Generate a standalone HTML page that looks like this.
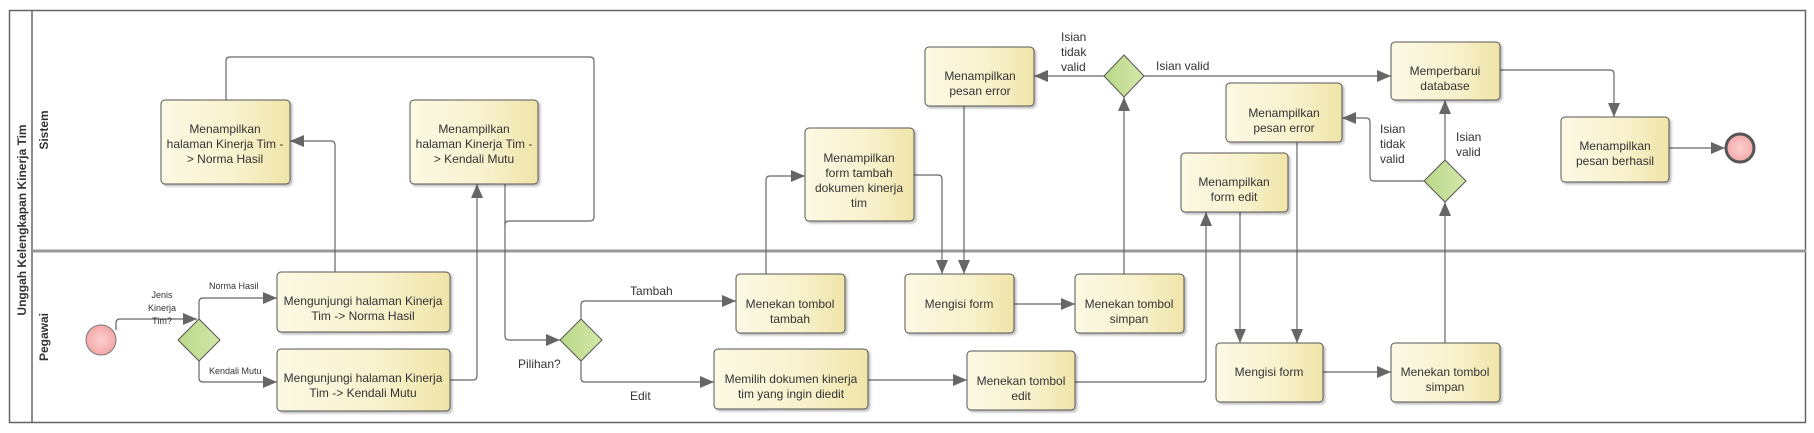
<!DOCTYPE html>
<html><head><meta charset="utf-8"><style>
html,body{margin:0;padding:0;background:#fff;}
svg{display:block;font-family:"Liberation Sans","DejaVu Sans",sans-serif;}
.b{fill:url(#g);stroke:#555;stroke-width:1;}
.t{font-size:12px;fill:#333;text-anchor:middle;}
.l{font-size:12px;fill:#333;}
.s{font-size:9px;fill:#333;}
.c{fill:none;stroke:#666;stroke-width:1.2;}
.d{fill:url(#gd);stroke:#555;}
</style></head><body>
<svg width="1814" height="433" viewBox="0 0 1814 433" xmlns="http://www.w3.org/2000/svg">
<defs>
<linearGradient id="g" x1="0" x2="1" y1="0" y2="0"><stop offset="0" stop-color="#fcf9e4"/><stop offset="0.6" stop-color="#f8f1cc"/><stop offset="1" stop-color="#f0e4a8"/></linearGradient>
<linearGradient id="gd" x1="0" x2="1"><stop offset="0" stop-color="#b9d88a"/><stop offset="1" stop-color="#d3e7a8"/></linearGradient>
<radialGradient id="gr"><stop offset="0" stop-color="#fbd0d0"/><stop offset="1" stop-color="#f4a8a8"/></radialGradient>
<marker id="a" markerWidth="14" markerHeight="12" refX="14" refY="6" orient="auto" markerUnits="userSpaceOnUse"><path d="M0,0 L14,6 L0,12 z" fill="#666"/></marker>
<filter id="sh" x="-5%" y="-5%" width="115%" height="120%"><feDropShadow dx="2" dy="2" stdDeviation="1" flood-color="#000" flood-opacity="0.25"/></filter>
</defs>
<!-- pool -->
<rect x="9.5" y="10.5" width="1796" height="412" fill="none" stroke="#666" stroke-width="1.5"/>
<line x1="32" y1="10" x2="32" y2="423" stroke="#666" stroke-width="1.5"/>
<line x1="32" y1="251" x2="1806" y2="251" stroke="#999" stroke-width="3"/>
<text transform="translate(26,220) rotate(-90)" style="font-size:12px;font-weight:bold;fill:#333" text-anchor="middle" x="0" y="0">Unggah Kelengkapan Kinerja Tim</text>
<text transform="translate(48,130) rotate(-90)" style="font-size:12px;font-weight:bold;fill:#333" text-anchor="middle">Sistem</text>
<text transform="translate(48,337) rotate(-90)" style="font-size:12px;font-weight:bold;fill:#333" text-anchor="middle">Pegawai</text>

<!-- connectors -->
<g class="c">
<path d="M116,330 V323 Q116,319 120,319 H197" marker-end="url(#a)"/>
<path d="M199,319 V302 Q199,298 203,298 H277" marker-end="url(#a)"/>
<path d="M199,361 V378 Q199,382 203,382 H277" marker-end="url(#a)"/>
<path d="M335,272 V145 Q335,141 331,141 H290" marker-end="url(#a)"/>
<path d="M450,380 H473 Q477,380 477,376 V184" marker-end="url(#a)"/>
<path d="M226,100 V61 Q226,57 230,57 H590 Q594,57 594,61 V217 Q594,221 590,221 H509 Q505,221 505,225"/>
<path d="M505,184 V336 Q505,340 509,340 H560" marker-end="url(#a)"/>
<path d="M581,319 V305 Q581,301 585,301 H736" marker-end="url(#a)"/>
<path d="M581,361 V378 Q581,382 585,382 H714" marker-end="url(#a)"/>
<path d="M766,274 V180 Q766,176 770,176 H805" marker-end="url(#a)"/>
<path d="M914,175 H938 Q942,175 942,179 V274" marker-end="url(#a)"/>
<path d="M964,106 V274" marker-end="url(#a)"/>
<path d="M1014,304 H1075" marker-end="url(#a)"/>
<path d="M1124,274 V97" marker-end="url(#a)"/>
<path d="M1104,76 H1034" marker-end="url(#a)"/>
<path d="M1144,76 H1391" marker-end="url(#a)"/>
<path d="M868,380 H967" marker-end="url(#a)"/>
<path d="M1075,382 H1202 Q1206,382 1206,378 V212" marker-end="url(#a)"/>
<path d="M1240,212 V343" marker-end="url(#a)"/>
<path d="M1297,142 V343" marker-end="url(#a)"/>
<path d="M1323,372 H1391" marker-end="url(#a)"/>
<path d="M1445,343 V202" marker-end="url(#a)"/>
<path d="M1445,160 V100" marker-end="url(#a)"/>
<path d="M1424,181 H1374 Q1370,181 1370,177 V122 Q1370,118 1366,118 H1342" marker-end="url(#a)"/>
<path d="M1500,70 H1610 Q1614,70 1614,74 V117" marker-end="url(#a)"/>
<path d="M1669,148 H1725" marker-end="url(#a)"/>
</g>

<!-- events/gateways -->
<circle cx="101" cy="340" r="15" fill="url(#gr)" stroke="#777"/>
<circle cx="1740" cy="148" r="14" fill="url(#gr)" stroke="#555" stroke-width="3"/>
<path class="d" d="M199,319 L220,340 L199,361 L178,340 z"/>
<path class="d" d="M581,319 L602,340 L581,361 L560,340 z"/>
<path class="d" d="M1124,55 L1144,76 L1124,97 L1104,76 z"/>
<path class="d" d="M1445,160 L1466,181 L1445,202 L1424,181 z"/>

<!-- boxes -->
<g filter="url(#sh)">
<rect class="b" x="161" y="100" width="129" height="84" rx="4"/>
<rect class="b" x="410" y="100" width="128" height="84" rx="4"/>
<rect class="b" x="277" y="272" width="173" height="60" rx="4"/>
<rect class="b" x="277" y="349" width="173" height="62" rx="4"/>
<rect class="b" x="736" y="274" width="109" height="59" rx="4"/>
<rect class="b" x="714" y="349" width="154" height="60" rx="4"/>
<rect class="b" x="805" y="128" width="109" height="93" rx="4"/>
<rect class="b" x="905" y="274" width="109" height="59" rx="4"/>
<rect class="b" x="925" y="47" width="109" height="59" rx="4"/>
<rect class="b" x="1075" y="274" width="109" height="59" rx="4"/>
<rect class="b" x="967" y="351" width="108" height="59" rx="4"/>
<rect class="b" x="1391" y="42" width="109" height="58" rx="4"/>
<rect class="b" x="1226" y="83" width="116" height="59" rx="4"/>
<rect class="b" x="1181" y="153" width="107" height="59" rx="4"/>
<rect class="b" x="1216" y="343" width="107" height="59" rx="4"/>
<rect class="b" x="1391" y="343" width="109" height="59" rx="4"/>
<rect class="b" x="1561" y="117" width="108" height="65" rx="4"/>
</g>

<!-- box text -->
<text class="t" x="225" y="133">Menampilkan</text><text class="t" x="225" y="148">halaman Kinerja Tim -</text><text class="t" x="225" y="163">&gt; Norma Hasil</text>
<text class="t" x="474" y="133">Menampilkan</text><text class="t" x="474" y="148">halaman Kinerja Tim -</text><text class="t" x="474" y="163">&gt; Kendali Mutu</text>
<text class="t" x="363" y="305">Mengunjungi halaman Kinerja</text><text class="t" x="363" y="320">Tim -&gt; Norma Hasil</text>
<text class="t" x="363" y="382">Mengunjungi halaman Kinerja</text><text class="t" x="363" y="397">Tim -&gt; Kendali Mutu</text>
<text class="t" x="790" y="308">Menekan tombol</text><text class="t" x="790" y="323">tambah</text>
<text class="t" x="791" y="383">Memilih dokumen kinerja</text><text class="t" x="791" y="398">tim yang ingin diedit</text>
<text class="t" x="859" y="162">Menampilkan</text><text class="t" x="859" y="177">form tambah</text><text class="t" x="859" y="192">dokumen kinerja</text><text class="t" x="859" y="207">tim</text>
<text class="t" x="959" y="308">Mengisi form</text>
<text class="t" x="980" y="80">Menampilkan</text><text class="t" x="980" y="95">pesan error</text>
<text class="t" x="1129" y="308">Menekan tombol</text><text class="t" x="1129" y="323">simpan</text>
<text class="t" x="1021" y="385">Menekan tombol</text><text class="t" x="1021" y="400">edit</text>
<text class="t" x="1445" y="75">Memperbarui</text><text class="t" x="1445" y="90">database</text>
<text class="t" x="1284" y="117">Menampilkan</text><text class="t" x="1284" y="132">pesan error</text>
<text class="t" x="1234" y="186">Menampilkan</text><text class="t" x="1234" y="201">form edit</text>
<text class="t" x="1269" y="376">Mengisi form</text>
<text class="t" x="1445" y="376">Menekan tombol</text><text class="t" x="1445" y="391">simpan</text>
<text class="t" x="1615" y="150">Menampilkan</text><text class="t" x="1615" y="165">pesan berhasil</text>

<!-- labels -->
<text class="s" x="162" y="298" text-anchor="middle">Jenis</text><text class="s" x="162" y="311" text-anchor="middle">Kinerja</text><text class="s" x="162" y="324" text-anchor="middle">Tim?</text>
<text class="s" x="209" y="289">Norma Hasil</text>
<text class="s" x="209" y="374">Kendali Mutu</text>
<text class="l" x="518" y="368">Pilihan?</text>
<text class="l" x="630" y="295">Tambah</text>
<text class="l" x="630" y="400">Edit</text>
<text class="l" x="1061" y="41">Isian</text><text class="l" x="1061" y="56">tidak</text><text class="l" x="1061" y="71">valid</text>
<text class="l" x="1156" y="70">Isian valid</text>
<text class="l" x="1380" y="133">Isian</text><text class="l" x="1380" y="148">tidak</text><text class="l" x="1380" y="163">valid</text>
<text class="l" x="1456" y="141">Isian</text><text class="l" x="1456" y="156">valid</text>
</svg>
</body></html>
